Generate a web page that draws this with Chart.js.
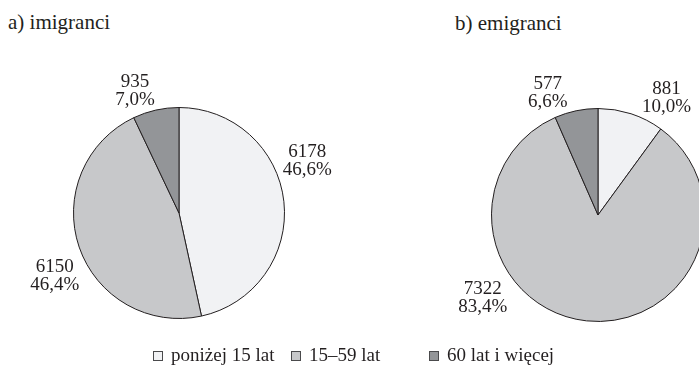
<!DOCTYPE html>
<html>
<head>
<meta charset="utf-8">
<script src="https://cdn.jsdelivr.net/npm/chart.js@4/dist/chart.umd.min.js"></script>
<style>
  html, body { margin: 0; padding: 0; background: #fff; overflow: hidden; }
  body { width: 699px; height: 373px; position: relative; color: #231f20; }
  .serif { font-family: 'Liberation Serif', 'Times New Roman', serif; }
  .title { position: absolute; font-size: 21px; line-height: 1; white-space: nowrap; }
  #legend { position: absolute; left: 0; top: 345px; font-size: 19px; white-space: nowrap; }
  .item { position: absolute; top: 0; }
  .swatch { position: absolute; top: 6px; width: 8px; height: 8px; border: 1px solid #4a4a4c; box-sizing: content-box; }
  .lbl { position: absolute; left: 18px; top: 0; line-height: 19px; }
  canvas { position: absolute; top: 0; }
</style>
</head>
<body>
<div class="title serif" id="t1" style="left:8px; top:12px;"></div>
<div class="title serif" id="t2" style="left:455px; top:13px;"></div>
<canvas id="c1" width="350" height="373" style="left:0; width:350px; height:373px;"></canvas>
<canvas id="c2" width="400" height="373" style="left:350px; width:400px; height:373px;"></canvas>
<div id="legend" class="serif"></div>
<script>
// Age groups shown in both pies
const categories = ['poniżej 15 lat', '15–59 lat', '60 lat i więcej'];
// Number of immigrants and emigrants by age group
const immigrants = [6178, 6150, 935];
const emigrants = [881, 7322, 577];
const chartTitles = ['a) imigranci', 'b) emigranci'];

const sliceColors = ['#f1f2f4', '#c7c8ca', '#939598'];
const edgeColor = '#231f20';
const labelFont = "19px 'Liberation Serif', 'Times New Roman', serif";

// Label anchor per slice: angle clockwise from 12 o'clock (deg) and distance as a multiple of the radius
const labelPlacement = {
  c1: [[67, 1.32], [244, 1.31], [340.5, 1.25]],
  c2: [[30, 1.285], [235, 1.32], [338, 1.26]]
};

function pct(v, arr) {
  const total = arr.reduce((a, b) => a + b, 0);
  return (v / total * 100).toFixed(1).replace('.', ',') + '%';
}

const sliceLabels = {
  id: 'sliceLabels',
  afterDatasetsDraw(chart) {
    const ctx = chart.ctx;
    const meta = chart.getDatasetMeta(0);
    const data = chart.data.datasets[0].data;
    const place = labelPlacement[chart.canvas.id];
    ctx.save();
    ctx.fillStyle = edgeColor;
    ctx.font = labelFont;
    ctx.textAlign = 'center';
    ctx.textBaseline = 'alphabetic';
    meta.data.forEach((arc, i) => {
      const [deg, k] = place[i];
      const a = deg * Math.PI / 180;
      const x = arc.x + Math.sin(a) * arc.outerRadius * k;
      const y = arc.y - Math.cos(a) * arc.outerRadius * k;
      ctx.fillText(String(data[i]), x, y - 2);
      ctx.fillText(pct(data[i], data), x, y + 16);
    });
    ctx.restore();
  }
};

function makePie(id, values, padding) {
  return new Chart(document.getElementById(id), {
    type: 'pie',
    data: {
      labels: categories,
      datasets: [{
        data: values,
        backgroundColor: sliceColors,
        borderColor: edgeColor,
        borderWidth: 1
      }]
    },
    options: {
      responsive: false,
      animation: false,
      layout: { padding },
      plugins: { legend: { display: false }, tooltip: { enabled: false } }
    },
    plugins: [sliceLabels]
  });
}

document.getElementById('t1').textContent = chartTitles[0];
document.getElementById('t2').textContent = chartTitles[1];

// Legend built from the category list
const legendX = [153, 291, 429];
const legend = document.getElementById('legend');
categories.forEach((c, i) => {
  const item = document.createElement('div');
  item.className = 'item';
  item.style.left = legendX[i] + 'px';
  const sw = document.createElement('div');
  sw.className = 'swatch';
  sw.style.background = sliceColors[i];
  const lbl = document.createElement('span');
  lbl.className = 'lbl';
  lbl.textContent = c;
  item.appendChild(sw);
  item.appendChild(lbl);
  legend.appendChild(item);
});

function drawAll() {
  makePie('c1', immigrants, { left: 73, right: 65, top: 107, bottom: 54 });
  makePie('c2', emigrants, { left: 141, right: 45, top: 108, bottom: 51 });
}
if (document.fonts && document.fonts.load) {
  document.fonts.load(labelFont, '0123456789,%').then(drawAll, drawAll);
} else {
  drawAll();
}
</script>
</body>
</html>
